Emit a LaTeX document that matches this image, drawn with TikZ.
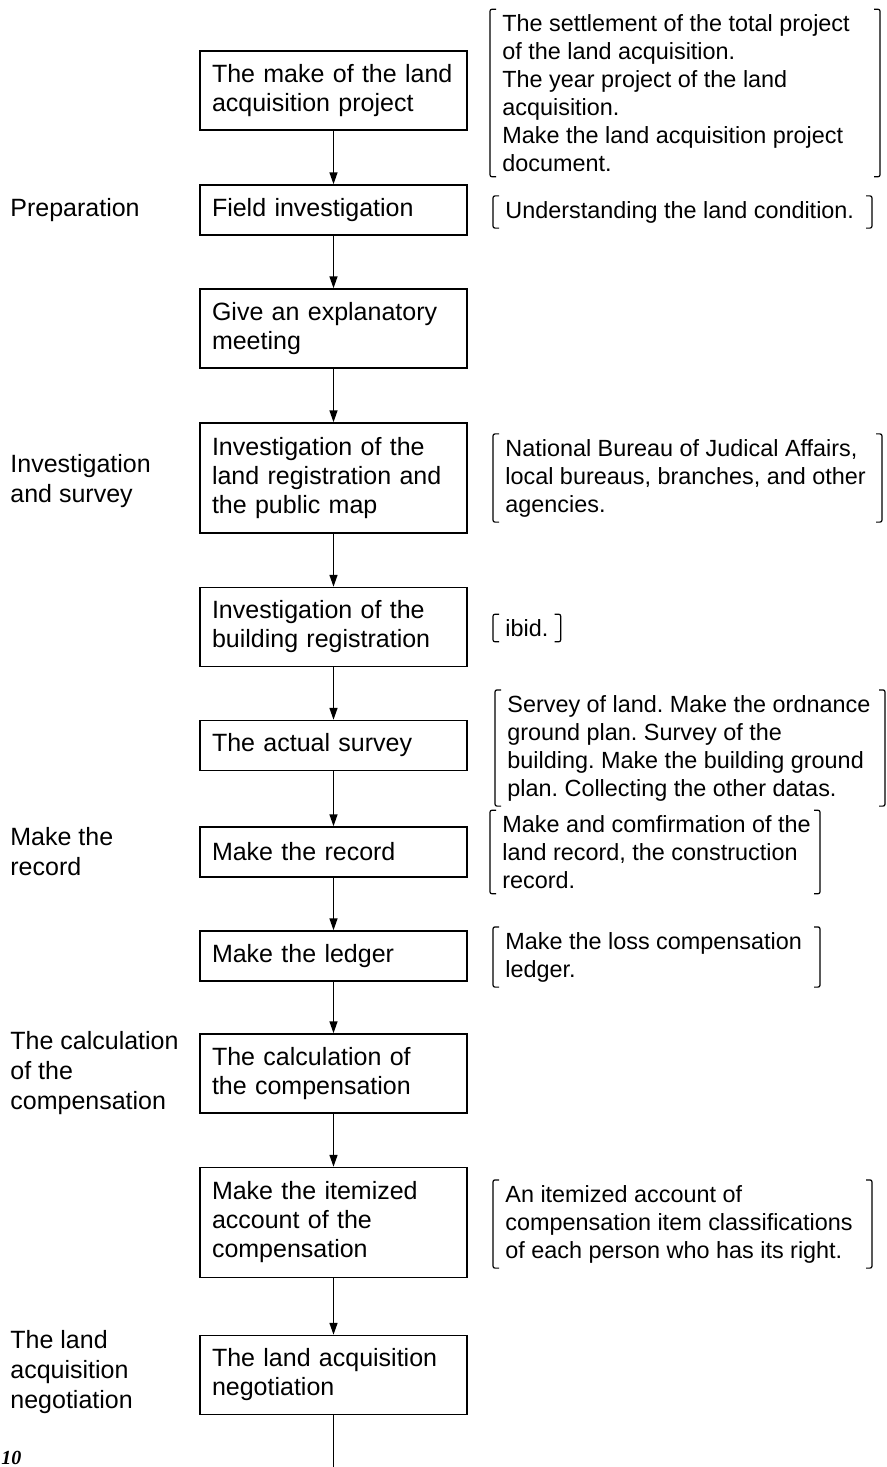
\documentclass[tikz,border=0pt]{standalone}
\usepackage{fontspec}
\setmainfont{Liberation Sans}
\newfontfamily\numfont{Liberation Serif}
\usetikzlibrary{arrows.meta,calc}
\frenchspacing
\newcommand\brackets[2]{%
  \draw[brkline] ($(#1.north west)+(6,0)$) -- (#1.north west) -- (#1.south west) -- ($(#1.south west)+(6,0)$);
  \draw[brkline] ($(#1.north -| #2)+(-6,0)$) -- (#1.north -| #2) -- (#1.south -| #2) -- ($(#1.south -| #2)+(-6,0)$);
}
\begin{document}
\begin{tikzpicture}[x=0.5pt,y=-0.5pt,
  box/.style={draw, line width=0.75pt, text width=121.5pt, inner xsep=6pt, inner ysep=2pt, align=left, font=\fontsize{12.5}{14.5}\selectfont},
  one/.style={box, minimum height=25pt},
  two/.style={box, minimum height=39.5pt},
  three/.style={box, minimum height=55pt},
  lab/.style={anchor=west, align=left, inner sep=0pt, font=\fontsize{12.5}{15}\selectfont},
  note/.style={anchor=west, align=left, inner xsep=6pt, inner ysep=2.4pt, font=\fontsize{11.7}{14}\selectfont},
  brkline/.style={line width=0.6pt, rounded corners=1pt},
  arr/.style={line width=0.75pt, -{Triangle[length=6pt,width=4pt]}},
  plain/.style={line width=0.75pt},
]
\useasboundingbox (0,0) rectangle (887,1467);

% main boxes
\node[two]   (b1)  at (333.5,90.5)  {The make of the land\\acquisition project};
\node[one]   (b2)  at (333.5,210)   {Field investigation};
\node[two]   (b3)  at (333.5,328.5) {Give an explanatory\\meeting};
\node[three] (b4)  at (333.5,478)   {Investigation of the\\land registration and\\the public map};
\node[two]   (b5)  at (333.5,627)   {Investigation of the\\building registration};
\node[one]   (b6)  at (333.5,745.5) {The actual survey};
\node[one]   (b7)  at (333.5,852)   {Make the record};
\node[one]   (b8)  at (333.5,956)   {Make the ledger};
\node[two]   (b9)  at (333.5,1073.5){The calculation of\\the compensation};
\node[three] (b10) at (333.5,1222.5){Make the itemized\\account of the\\compensation};
\node[two]   (b11) at (333.5,1375)  {The land acquisition\\negotiation};
\coordinate (end) at (333.5,1467);

\draw[arr] (b1) -- (b2);
\draw[arr] (b2) -- (b3);
\draw[arr] (b3) -- (b4);
\draw[arr] (b4) -- (b5);
\draw[arr] (b5) -- (b6);
\draw[arr] (b6) -- (b7);
\draw[arr] (b7) -- (b8);
\draw[arr] (b8) -- (b9);
\draw[arr] (b9) -- (b10);
\draw[arr] (b10) -- (b11);
\draw[plain] (b11) -- (end);

% left stage labels
\node[lab] (l1) at (10,210)  {Preparation};
\node[lab] (l2) at (10,481)  {Investigation\\and survey};
\node[lab] (l3) at (10,852)  {Make the\\record};
\node[lab] (l4) at (10,1073) {The calculation\\of the\\compensation};
\node[lab] (l5) at (10,1372) {The land\\acquisition\\negotiation};

% right notes
\coordinate (r1) at (880,0);
\coordinate (r2) at (872,0);
\coordinate (r3) at (882,0);
\coordinate (r5) at (885,0);
\coordinate (r6) at (820,0);
\coordinate (r8) at (872,0);

\node[note] (n1) at (490,93) {The settlement of the total project\\of the land acquisition.\\The year project of the land\\acquisition.\\Make the land acquisition project\\document.};
\brackets{n1}{r1}
\node[note] (n2) at (493,212) {Understanding the land condition.};
\brackets{n2}{r2}
\node[note] (n3) at (493,478) {National Bureau of Judical Affairs,\\local bureaus, branches, and other\\agencies.};
\brackets{n3}{r3}
\node[note] (n4) at (493,628) {ibid.};
\brackets{n4}{n4.east}
\node[note] (n5) at (495,748) {Servey of land. Make the ordnance\\ground plan. Survey of the\\building. Make the building ground\\plan. Collecting the other datas.};
\brackets{n5}{r5}
\node[note] (n6) at (490,852) {Make and comfirmation of the\\land record, the construction\\record.};
\brackets{n6}{r6}
\node[note] (n7) at (493,957) {Make the loss compensation\\ledger.};
\brackets{n7}{r6}
\node[note] (n8) at (493,1224) {An itemized account of\\compensation item classifications\\of each person who has its right.};
\brackets{n8}{r8}

% page number
\node[anchor=base west, inner sep=0pt, font=\numfont\bfseries\itshape\fontsize{10}{12}\selectfont] (pg) at (1,1464) {10};
\end{tikzpicture}
\end{document}
